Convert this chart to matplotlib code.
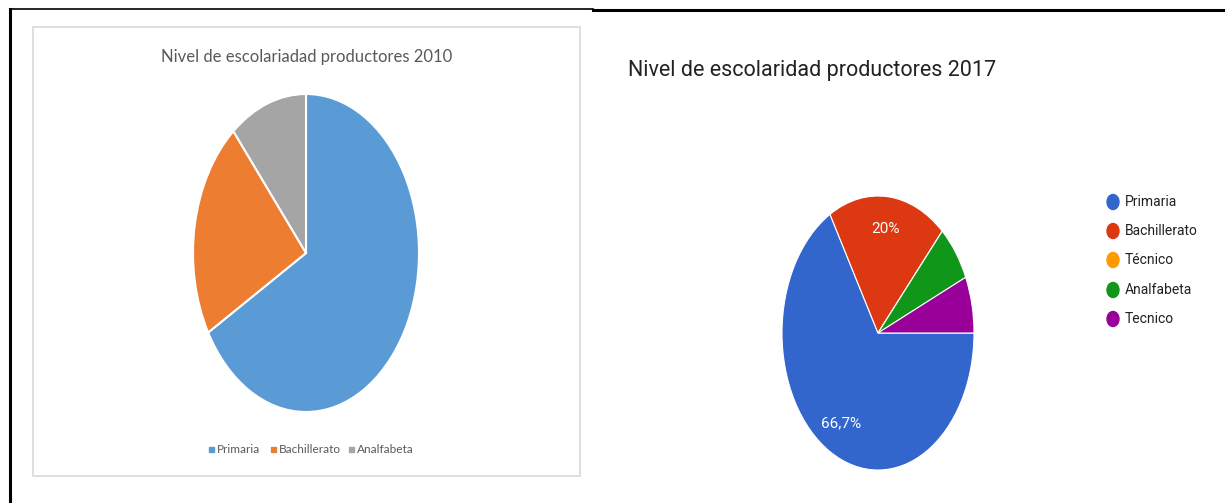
import matplotlib
matplotlib.use("Agg")
import matplotlib.pyplot as plt
from matplotlib.patches import Rectangle, Ellipse
from matplotlib.lines import Line2D

W, H = 1225, 503

# 2010 data (Excel style)
cat_2010 = ["Primaria", "Bachillerato", "Analfabeta"]
val_2010 = [6, 2, 1]
col_2010 = ["#5B9BD5", "#ED7D31", "#A5A5A5"]

# 2017 data (Google style)
cat_2017 = ["Primaria", "Bachillerato", "Técnico", "Analfabeta", "Tecnico"]
val_2017 = [10, 3, 0, 1, 1]
col_2017 = ["#3366CC", "#DC3912", "#FF9900", "#109618", "#990099"]
lab_2017 = ["66,7%", "20%", "", "", ""]

LEFT_FONT = ["Lato", "DejaVu Sans"]
RIGHT_FONT = ["Roboto", "DejaVu Sans"]

fig = plt.figure(figsize=(W / 100, H / 100), dpi=100)
fig.patch.set_facecolor("white")


def px_axes(cx, cy, rx, ry):
    # axes box in pixel coords (y from top)
    return fig.add_axes([(cx - rx) / W, (H - cy - ry) / H, 2 * rx / W, 2 * ry / H])


# outer frame lines
bg = fig.add_axes([0, 0, 1, 1])
bg.set_xlim(0, W)
bg.set_ylim(H, 0)
bg.axis("off")
bg.add_line(Line2D([10, 10], [9, H], color="black", lw=2.2))
bg.add_line(Line2D([10, 593], [9, 9], color="black", lw=1.2))
bg.add_line(Line2D([593, W], [10, 10], color="black", lw=2.2))
bg.add_patch(Rectangle((33, 27), 547, 449, fill=False, ec="#d9d9d9", lw=1.2))

# left title and legend
bg.text(307, 57, "Nivel de escolariadad productores 2010", ha="center", va="center",
        fontsize=12, color="#595959", family=LEFT_FONT)
leg_x = [211, 273, 351]
for x, name, c in zip(leg_x, cat_2010, col_2010):
    bg.add_patch(Rectangle((x - 2.5, 447), 5, 5, color=c))
    bg.text(x + 6, 449.5, name, ha="left", va="center", fontsize=8.5, color="#595959",
            family=LEFT_FONT)

# right title and legend
bg.text(628, 70, "Nivel de escolaridad productores 2017", ha="left", va="center",
        fontsize=15.5, color="#222222", family=RIGHT_FONT)
leg_y = [202, 231, 260, 290, 319]
for y, name, c in zip(leg_y, cat_2017, col_2017):
    bg.add_patch(Ellipse((1113, y), 12, 15, color=c))
    bg.text(1125, y, name, ha="left", va="center", fontsize=10, color="#222222",
            family=RIGHT_FONT)

# left pie
ax1 = px_axes(306, 253, 113, 159)
ax1.pie(val_2010, colors=col_2010, startangle=90, counterclock=False,
        wedgeprops=dict(edgecolor="white", linewidth=1.5))
ax1.set_aspect("auto")
ax1.set_xlim(-1, 1)
ax1.set_ylim(-1, 1)

# right pie
ax2 = px_axes(878, 333, 96, 137)
wedges, texts = ax2.pie(val_2017, colors=col_2017, startangle=0, counterclock=False,
                        labels=lab_2017, labeldistance=0.76,
                        wedgeprops=dict(edgecolor="white", linewidth=0.8))
for t in texts:
    t.set_color("white")
    t.set_fontsize(11)
    t.set_family(RIGHT_FONT)
    t.set_ha("center")
ax2.set_aspect("auto")
ax2.set_xlim(-1, 1)
ax2.set_ylim(-1, 1)

fig.savefig("out.png", dpi=100, facecolor="white")
